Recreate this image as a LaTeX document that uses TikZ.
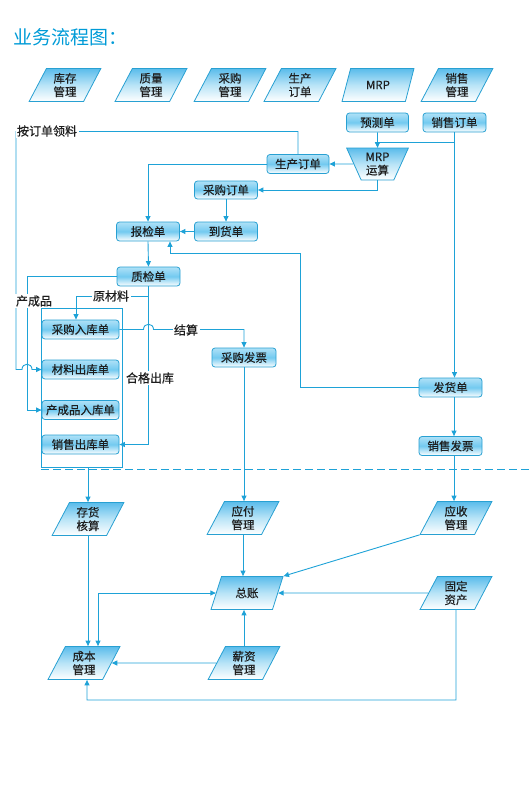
\documentclass[tikz,border=0pt]{standalone}
\usepackage{fontspec}
\setmainfont{Noto Sans CJK SC}
\newfontfamily\bx{Noto Sans CJK SC}[FakeBold=0.4]
\usetikzlibrary{shapes.geometric,arrows.meta,calc}
\definecolor{lc}{RGB}{30,162,215}
\definecolor{bc}{RGB}{40,160,210}
\definecolor{ttl}{RGB}{0,155,215}
\definecolor{tx}{RGB}{30,30,30}
\definecolor{sa}{RGB}{175,225,247}
\definecolor{sb}{RGB}{115,202,240}
\definecolor{pa}{RGB}{90,188,235}
\definecolor{pb}{RGB}{185,228,247}
\begin{document}
\begin{tikzpicture}[x=1pt,y=-1pt,
  rbox/.style={draw=bc, line width=0.8pt, rounded corners=3pt, minimum height=19pt,
    minimum width=63pt, inner sep=1pt, top color=sa, bottom color=white, middle color=sb,
    font=\bx\fontsize{11.5}{13}\selectfont, text=tx},
  para/.style={trapezium, trapezium left angle=66, trapezium right angle=114,
    trapezium stretches=true, minimum width=72pt, minimum height=33pt, draw=bc,
    line width=0.8pt, top color=pa, bottom color=white, middle color=pb, align=center,
    inner sep=0pt, font=\bx\fontsize{11.5}{13.5}\selectfont, text=tx},
  arr/.style={draw=lc, line width=0.9pt, -{Triangle[length=5.5pt,width=5pt]}},
  arrboth/.style={draw=lc, line width=0.9pt, {Triangle[length=5.5pt,width=5pt]}-{Triangle[length=5.5pt,width=5pt]}},
  lab/.style={fill=white, inner sep=1.5pt, font=\bx\fontsize{12}{14}\selectfont, text=tx},
  sepline/.style={draw=lc, line width=1.6pt, dash pattern=on 8pt off 4pt}
]
\useasboundingbox (0,0) rectangle (531,800);

% title
\node[anchor=west, text=ttl, font=\fontsize{19}{22}\selectfont, inner sep=0pt] (title) at (13,37) {业务流程图：};

% top row
\node[para] (t1) at (65,85) {库存\\管理};
\node[para] (t2) at (151,85) {质量\\管理};
\node[para] (t3) at (230,85) {采购\\管理};
\node[para] (t4) at (300,85) {生产\\订单};
\node[para] (t5) at (378,85) {MRP};
\node[para] (t6) at (457,85) {销售\\管理};

% container
\node[draw=lc, line width=0.8pt, minimum width=81pt, minimum height=159pt, inner sep=0pt] (cont) at (81.5,387.5) {};

% boxes
\node[rbox, minimum width=62pt] (yuce) at (377.5,122.5) {预测单};
\node[rbox] (xsdd) at (454.5,122.5) {销售订单};
\node[trapezium, trapezium left angle=65, trapezium right angle=65, shape border rotate=180,
  trapezium stretches=true, minimum width=62pt, minimum height=32pt, draw=bc, line width=0.8pt,
  top color=pa, bottom color=white, middle color=pb, align=center, inner sep=0pt,
  font=\bx\fontsize{11.5}{13.5}\selectfont, text=tx] (mrp) at (377.5,164) {MRP\\运算};
\node[rbox, minimum width=62pt] (scdd) at (298,164) {生产订单};
\node[rbox, minimum height=18pt] (cgdd) at (226,190) {采购订单};
\node[rbox] (dhd) at (226,231.5) {到货单};
\node[rbox] (bjd) at (148,231.5) {报检单};
\node[rbox] (zjd) at (148.5,276.5) {质检单};
\node[rbox, minimum width=77pt] (cgrk) at (80.5,329.5) {采购入库单};
\node[rbox, minimum width=77pt] (clck) at (80.5,369.5) {材料出库单};
\node[rbox, minimum width=77pt] (ccrk) at (80.5,410) {产成品入库单};
\node[rbox, minimum width=77pt] (xsck) at (80.5,444.5) {销售出库单};
\node[rbox, minimum width=64pt] (cgfp) at (244,357.5) {采购发票};
\node[rbox] (fhd) at (450.5,387.5) {发货单};
\node[rbox] (xsfp) at (450.5,446) {销售发票};

% bottom
\node[para] (chhs) at (88,519) {存货\\核算};
\node[para] (yfgl) at (243,518) {应付\\管理};
\node[para] (ysgl) at (456,518) {应收\\管理};
\node[para] (zz) at (247,593) {总账};
\node[para] (gdzc) at (456,593) {固定\\资产};
\node[para] (cbgl) at (84,663) {成本\\管理};
\node[para] (xzgl) at (244,663) {薪资\\管理};

% separator
\draw[sepline] (41,469.5) -- (531,469.5);

% connectors upper
\draw[arr] (yuce.south) -- (mrp.north);
\draw[arr] (xsdd.south) -- (xsdd.south |- fhd.north);
\draw[arr] ($(xsdd.south)+(0,10)$) -| (mrp.north);
\draw[arr] (mrp.west) -- (scdd.east);
\draw[arr] (mrp.south) |- (cgdd.east);
\draw[arr] (scdd.west) -| (bjd.north);
\draw[arr] (scdd.north) |- (16,131.5) -- (16,369.5) -- (22,369.5)
  .. controls (22,362.5) and (32,362.5) .. (32,369.5) -- (clck.west);
\draw[arr] (cgdd.south) -- (dhd.north);
\draw[arr] (dhd.west) -- (bjd.east);
\draw[arr] (fhd.west) -| (300,253) -| ([xshift=22pt]bjd.south);
\draw[arr] (bjd.south) -- (zjd.north);
\draw[arr] (zjd.west) -| (27,410) -- (ccrk.west);
\draw[arr] (zjd.south) |- (xsck.east);
\draw[arr] (148.5,296) -| ([xshift=-4.5pt]cgrk.north);
\draw[arr] (cgrk.east) -- (143.5,329.5) .. controls (143.5,322.5) and (153.5,322.5) .. (153.5,329.5) -| (cgfp.north);
\draw[arr] ([xshift=3.5pt]fhd.south) -- ([xshift=3.5pt]xsfp.north);

% connectors lower
\draw[arr] (chhs.north |- cont.south) -- (chhs.north);
\draw[arr] (cgfp.south) -- (cgfp.south |- yfgl.north);
\draw[arr] ([xshift=3.5pt]xsfp.south) -- ([xshift=3.5pt]xsfp.south |- ysgl.north);
\draw[arr] (yfgl.south) -- (yfgl.south |- zz.north);
\draw[arr] (ysgl.bottom left corner) -- (zz.top right corner);
\draw[arr] (gdzc.west) -- (zz.east);
\draw[arrboth] (zz.west) -| ([xshift=14pt]cbgl.north);
\draw[arr] (chhs.south) -- (chhs.south |- cbgl.north);
\draw[arr] (xzgl.north) -- (xzgl.north |- zz.south);
\draw[arr] (xzgl.west) -- (cbgl.east);
\draw[arr] (gdzc.south) |- (87,700) -- ([xshift=3pt]cbgl.south);

% labels
\node[lab] (l1) at (47,131) {按订单领料};
\node[lab] (l2) at (34,301) {产成品};
\node[lab] (l3) at (111,296) {原材料};
\node[lab] (l4) at (186,330) {结算};
\node[lab] (l5) at (150,378) {合格出库};
\end{tikzpicture}
\end{document}
